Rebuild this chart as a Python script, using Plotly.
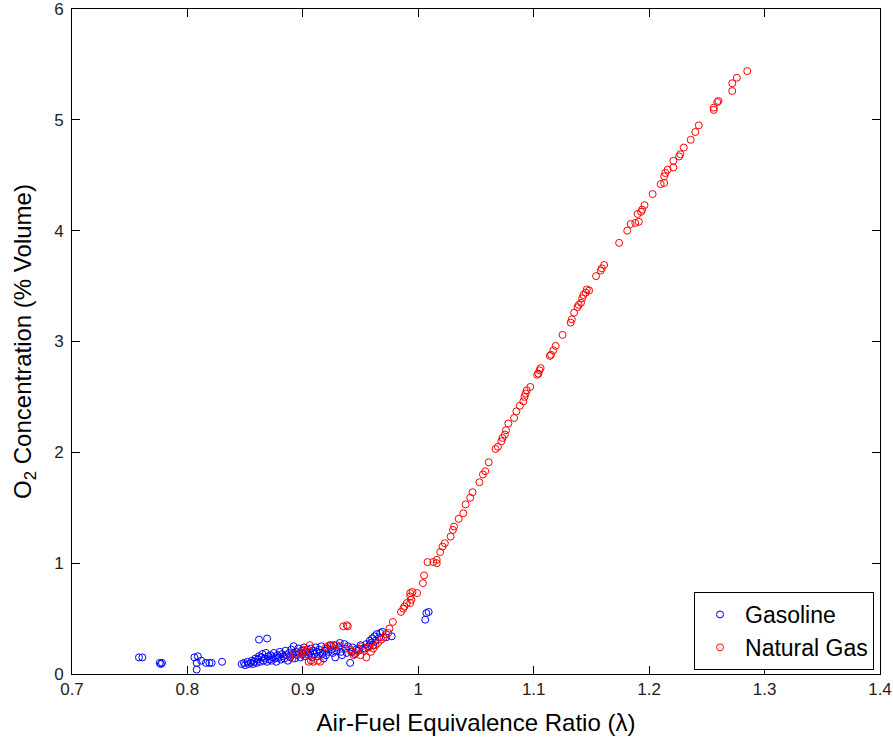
import plotly.graph_objects as go

# Gasoline (blue)
gas_x = [0.758, 0.761, 0.776, 0.777, 0.778, 0.806, 0.809, 0.808, 0.812, 0.808, 0.816, 0.819, 0.821, 0.830,
         0.847, 0.849, 0.850, 0.852, 0.853, 0.855, 0.856, 0.857, 0.858, 0.859, 0.860, 0.861, 0.862, 0.862,
         0.863, 0.864, 0.865, 0.866, 0.867, 0.868, 0.869, 0.869, 0.870, 0.871, 0.872, 0.873, 0.874, 0.875,
         0.876, 0.877, 0.878, 0.879, 0.880, 0.881, 0.882, 0.883, 0.884, 0.885, 0.886, 0.887, 0.888, 0.889,
         0.890, 0.891, 0.892, 0.893, 0.894, 0.895, 0.896, 0.897, 0.898, 0.899, 0.900, 0.901, 0.902, 0.903,
         0.904, 0.905, 0.906, 0.907, 0.908, 0.909, 0.910, 0.911, 0.912, 0.913, 0.914, 0.915, 0.916, 0.917,
         0.918, 0.919, 0.920, 0.921, 0.922, 0.924, 0.925, 0.926, 0.927, 0.928, 0.929, 0.931, 0.932, 0.933,
         0.934, 0.936, 0.937, 0.938, 0.939, 0.941, 0.942, 0.943, 0.945, 0.946, 0.948, 0.950, 0.952, 0.954,
         0.955, 0.957, 0.958, 0.959, 0.960, 0.961, 0.962, 0.963, 0.964, 0.966, 0.967, 0.969, 0.972, 0.977,
         1.006, 1.007, 1.009]
gas_y = [0.15, 0.15, 0.10, 0.09, 0.10, 0.15, 0.16, 0.10, 0.12, 0.04, 0.10, 0.10, 0.10, 0.11,
         0.09, 0.10, 0.08, 0.11, 0.09, 0.10, 0.12, 0.09, 0.11, 0.14, 0.10, 0.13, 0.16, 0.31,
         0.11, 0.15, 0.18, 0.12, 0.14, 0.19, 0.32, 0.11, 0.16, 0.13, 0.17, 0.12, 0.15, 0.19,
         0.14, 0.11, 0.17, 0.15, 0.20, 0.13, 0.18, 0.16, 0.14, 0.21, 0.17, 0.12, 0.19, 0.15,
         0.22, 0.18, 0.25, 0.14, 0.20, 0.17, 0.23, 0.19, 0.15, 0.21, 0.18, 0.24, 0.16, 0.20,
         0.22, 0.17, 0.19, 0.23, 0.15, 0.21, 0.18, 0.24, 0.20, 0.16, 0.22, 0.19, 0.25, 0.18,
         0.14, 0.21, 0.17, 0.23, 0.20, 0.26, 0.22, 0.19, 0.26, 0.15, 0.21, 0.24, 0.28, 0.20,
         0.17, 0.27, 0.23, 0.19, 0.25, 0.10, 0.20, 0.24, 0.18, 0.22, 0.21, 0.26, 0.23, 0.23,
         0.27, 0.25, 0.30, 0.28, 0.32, 0.26, 0.34, 0.30, 0.36, 0.33, 0.37, 0.38, 0.33, 0.34,
         0.49, 0.55, 0.56]

# Natural Gas (red)
ng_x = [0.889, 0.891, 0.893, 0.899, 0.900, 0.901, 0.902, 0.906, 0.905, 0.907, 0.909, 0.913, 0.915, 0.920,
        0.923, 0.925, 0.929, 0.932, 0.935, 0.938, 0.939, 0.941, 0.943, 0.944, 0.946, 0.948, 0.950, 0.951,
        0.953, 0.955, 0.957, 0.959, 0.961, 0.963, 0.965, 0.968, 0.970, 0.972, 0.974, 0.975, 0.978, 0.985,
        0.987, 0.988, 0.990, 0.993, 0.994, 0.993, 0.993, 0.995, 0.999, 1.004, 1.005, 1.008, 1.013, 1.016,
        1.016, 1.019, 1.021, 1.023, 1.028, 1.030, 1.031, 1.035, 1.039, 1.041, 1.045, 1.047, 1.053, 1.056,
        1.058, 1.061, 1.067, 1.069, 1.072, 1.073, 1.075, 1.076, 1.078, 1.083, 1.085, 1.088, 1.091, 1.092,
        1.093, 1.094, 1.097, 1.103, 1.104, 1.105, 1.106, 1.114, 1.115, 1.117, 1.119, 1.125, 1.132, 1.133,
        1.135, 1.138, 1.139, 1.141, 1.142, 1.143, 1.145, 1.146, 1.148, 1.154, 1.158, 1.159, 1.161, 1.174,
        1.181, 1.184, 1.188, 1.191, 1.190, 1.193, 1.194, 1.196, 1.203, 1.210, 1.213, 1.213, 1.214, 1.216,
        1.221, 1.221, 1.226, 1.227, 1.230, 1.236, 1.240, 1.243, 1.256, 1.256, 1.259, 1.260, 1.272, 1.272,
        1.276, 1.285]
ng_y = [0.16, 0.14, 0.18, 0.19, 0.22, 0.16, 0.20, 0.26, 0.11, 0.12, 0.11, 0.12, 0.11, 0.24,
        0.26, 0.25, 0.26, 0.25, 0.43, 0.44, 0.43, 0.22, 0.20, 0.17, 0.19, 0.23, 0.17, 0.25,
        0.21, 0.15, 0.24, 0.20, 0.23, 0.26, 0.28, 0.31, 0.33, 0.36, 0.37, 0.41, 0.47, 0.56,
        0.59, 0.61, 0.64, 0.64, 0.67, 0.70, 0.73, 0.74, 0.73, 0.82, 0.89, 1.01, 1.01, 1.03,
        1.00, 1.10, 1.15, 1.18, 1.24, 1.30, 1.33, 1.40, 1.45, 1.53, 1.59, 1.64, 1.73, 1.80,
        1.83, 1.91, 2.03, 2.05, 2.10, 2.13, 2.16, 2.20, 2.26, 2.31, 2.37, 2.42, 2.46, 2.50,
        2.53, 2.56, 2.59, 2.70, 2.71, 2.74, 2.76, 2.87, 2.88, 2.92, 2.96, 3.06, 3.17, 3.20,
        3.26, 3.31, 3.33, 3.35, 3.39, 3.42, 3.44, 3.47, 3.46, 3.59, 3.64, 3.66, 3.69, 3.89,
        4.00, 4.06, 4.07, 4.08, 4.15, 4.17, 4.19, 4.23, 4.33, 4.42, 4.43, 4.49, 4.52, 4.55,
        4.57, 4.63, 4.67, 4.69, 4.75, 4.82, 4.89, 4.95, 5.09, 5.11, 5.16, 5.17, 5.26, 5.33,
        5.38, 5.44]

x_ticks = [0.7, 0.8, 0.9, 1.0, 1.1, 1.2, 1.3, 1.4]
x_tick_labels = ["0.7", "0.8", "0.9", "1", "1.1", "1.2", "1.3", "1.4"]
y_ticks = [0, 1, 2, 3, 4, 5, 6]

FONT = "Liberation Sans, Arial, Helvetica, sans-serif"

fig = go.Figure()
fig.add_trace(go.Scatter(
    x=gas_x, y=gas_y, mode="markers", name="Gasoline", legendgroup="g1",
    marker=dict(symbol="circle-open", size=7, color="#0000ff", line=dict(width=1)),
))
fig.add_trace(go.Scatter(
    x=ng_x, y=ng_y, mode="markers", name="Natural Gas", legendgroup="g2",
    marker=dict(symbol="circle-open", size=7, color="#ff0000", line=dict(width=1)),
))

axis_common = dict(
    showgrid=False, zeroline=False, showline=True, linecolor="black", linewidth=1,
    mirror="ticks", ticks="inside", ticklen=8, tickcolor="black", tickwidth=1,
    ticklabeloverflow="allow",
    tickfont=dict(family=FONT, size=17, color="#222222"),
)

fig.update_layout(
    width=893, height=738,
    margin=dict(l=72, r=13, t=9, b=64),
    paper_bgcolor="white", plot_bgcolor="white",
    font=dict(family=FONT, color="black"),
    xaxis=dict(range=[0.7, 1.4], tickvals=x_ticks, ticktext=x_tick_labels, automargin=False,
               title=dict(text="Air-Fuel Equivalence Ratio (λ)", font=dict(family=FONT, size=24)),
               **axis_common),
    yaxis=dict(range=[0, 6], tickvals=y_ticks, ticklabelstandoff=4, automargin=False,
               title=dict(text="O<sub>2</sub> Concentration (% Volume)", font=dict(family=FONT, size=24)),
               **axis_common),
    legend=dict(x=0.9926, y=0.006, xanchor="right", yanchor="bottom",
                bgcolor="white", bordercolor="black", borderwidth=1,
                font=dict(family=FONT, size=23, color="black"),
                itemwidth=40, traceorder="grouped", tracegroupgap=0),
    showlegend=True,
)

fig.write_html("out.html")
